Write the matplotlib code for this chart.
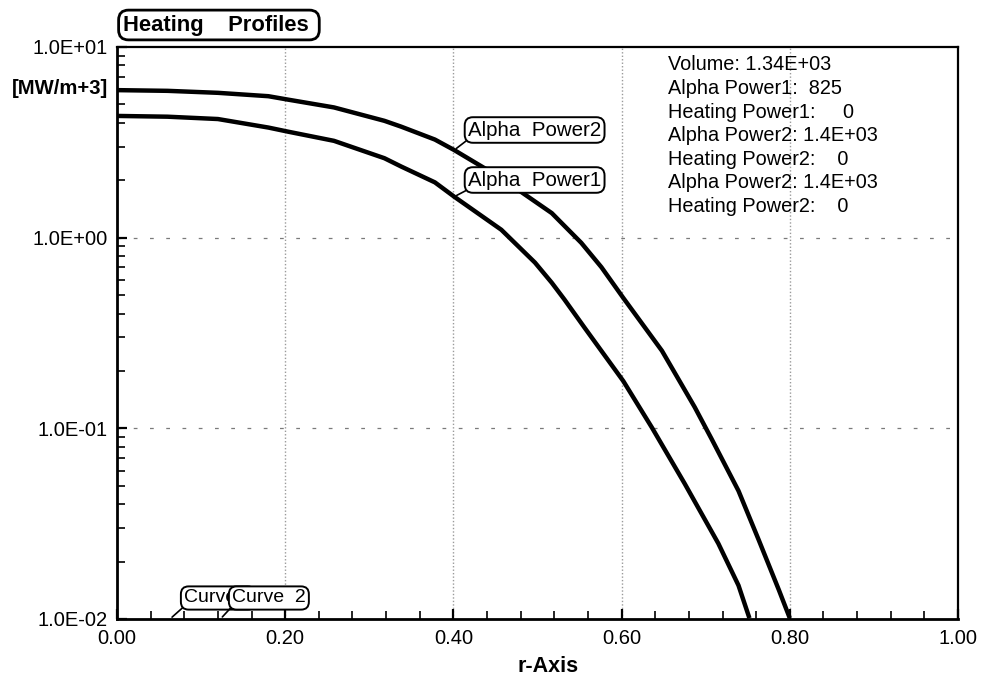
import matplotlib
matplotlib.use("Agg")
import matplotlib.pyplot as plt
import numpy as np

plt.rcParams['font.family'] = ['Liberation Sans', 'DejaVu Sans']

# Radial positions and heating-power density profiles [MW/m^3]
r_power2 = [0.000, 0.060, 0.120, 0.180, 0.203, 0.258, 0.318, 0.338, 0.378,
            0.401, 0.457, 0.517, 0.552, 0.576, 0.602, 0.648, 0.687, 0.707,
            0.739, 0.763, 0.787, 0.800]
alpha_power2 = [5.94, 5.89, 5.75, 5.52, 5.30, 4.82, 4.10, 3.82, 3.27,
                2.88, 2.05, 1.345, 0.94, 0.70, 0.483, 0.255, 0.129, 0.088,
                0.047, 0.026, 0.0142, 0.0101]

r_power1 = [0.000, 0.060, 0.120, 0.180, 0.203, 0.258, 0.318, 0.338, 0.378,
            0.401, 0.457, 0.497, 0.517, 0.532, 0.556, 0.602, 0.636, 0.675,
            0.715, 0.739, 0.752]
alpha_power1 = [4.35, 4.31, 4.19, 3.78, 3.60, 3.22, 2.61, 2.36, 1.95,
                1.64, 1.10, 0.74, 0.58, 0.474, 0.337, 0.177, 0.101, 0.0513,
                0.0249, 0.0150, 0.0101]

x_ticks = [0.0, 0.2, 0.4, 0.6, 0.8, 1.0]
x_tick_labels = ["0.00", "0.20", "0.40", "0.60", "0.80", "1.00"]
y_ticks = [1e-2, 1e-1, 1e0, 1e1]
y_tick_labels = ["1.0E-02", "1.0E-01", "1.0E+00", "1.0E+01"]

summary_lines = [
    "Volume: 1.34E+03",
    "Alpha Power1:  825",
    "Heating Power1:     0",
    "Alpha Power2: 1.4E+03",
    "Heating Power2:    0",
    "Alpha Power2: 1.4E+03",
    "Heating Power2:    0",
]

W, H = 986, 681
fig = plt.figure(figsize=(W / 100, H / 100), dpi=100)
L, R, T, B = 117, 958, 47, 619
ax = fig.add_axes([L / W, 1 - B / H, (R - L) / W, (B - T) / H])

ax.set_yscale('log')
ax.set_xlim(0, 1)
ax.set_ylim(1e-2, 1e1)

# grid: dotted verticals, broken dashed horizontals
for xv in x_ticks[1:-1]:
    ax.axvline(xv, color='#9a9a9a', lw=1.0, ls=(0, (1, 1.5)), zorder=1)
for yv in y_ticks[1:-1]:
    ax.axhline(yv, color='#7a7a7a', lw=0.9, ls=(0, (3, 10)), zorder=1)

ax.plot(r_power2, alpha_power2, color='black', lw=3.2,
        solid_capstyle='butt', solid_joinstyle='round', zorder=3)
ax.plot(r_power1, alpha_power1, color='black', lw=3.2,
        solid_capstyle='butt', solid_joinstyle='round', zorder=3)

# axes frame and ticks
for side in ['left', 'bottom']:
    ax.spines[side].set_linewidth(2.0)
for side in ['top', 'right']:
    ax.spines[side].set_linewidth(1.6)

ax.set_xticks(x_ticks)
ax.set_xticklabels(x_tick_labels)
ax.set_xticks(np.arange(0.04, 1.0, 0.04), minor=True)
ax.set_yticks(y_ticks)
ax.set_yticklabels(y_tick_labels)
ax.tick_params(axis='both', which='both', direction='in', labelsize=14.5,
               top=False, right=False, color='black')
ax.tick_params(axis='both', which='major', length=7, width=1.6)
ax.tick_params(axis='both', which='minor', length=6, width=1.2)
ax.tick_params(axis='x', which='major', pad=7)
ax.tick_params(axis='y', which='major', pad=7)

# axis captions
fig.text(548 / W, 1 - 666 / H, "r-Axis", fontsize=15.5, fontweight='bold',
         ha='center', va='center')
fig.text(108 / W, 1 - 89 / H, "[MW/m+3]", fontsize=14.6, fontweight='bold',
         ha='right', va='center')

# title box
fig.text(123 / W, 1 - 25 / H, "Heating    Profiles ", fontsize=15.8,
         fontweight='bold', ha='left', va='center',
         bbox=dict(boxstyle='round,pad=0.2,rounding_size=0.45', fc='white',
                   ec='black', lw=2.0))

# summary block
for i, line in enumerate(summary_lines):
    fig.text(668 / W, 1 - (65 + 23.6 * i) / H, line, fontsize=14.3,
             ha='left', va='center')

# curve labels with leader lines
box = dict(boxstyle='round,pad=0.16,rounding_size=0.4', fc='white', ec='black', lw=1.4)
leader = dict(arrowstyle='-', color='black', lw=1.2, relpos=(0, 0), shrinkA=0, shrinkB=2)

ax.annotate("Alpha  Power2", xy=(r_power2[9], alpha_power2[9]),
            xytext=(468, H - 130), textcoords='figure pixels',
            fontsize=14.8, ha='left', va='center', bbox=box, arrowprops=leader, zorder=5)
ax.annotate("Alpha  Power1", xy=(r_power1[9], alpha_power1[9]),
            xytext=(468, H - 180), textcoords='figure pixels',
            fontsize=14.8, ha='left', va='center', bbox=box, arrowprops=leader, zorder=5)

ax.annotate("Curve 1", xy=(0.063, 1e-2),
            xytext=(184, H - 598), textcoords='figure pixels',
            fontsize=14, ha='left', va='center', bbox=box, arrowprops=leader,
            zorder=5, annotation_clip=False)
ax.annotate("Curve  2", xy=(0.123, 1e-2),
            xytext=(232, H - 598), textcoords='figure pixels',
            fontsize=14, ha='left', va='center', bbox=box, arrowprops=leader,
            zorder=6, annotation_clip=False)

fig.savefig("out.png", dpi=100)
